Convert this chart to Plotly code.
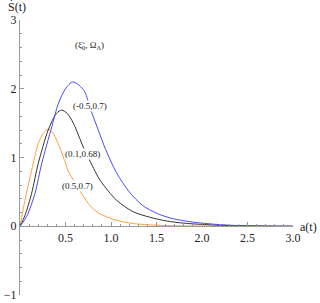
import plotly.graph_objects as go

# Series
a_blue = [0, 0.073, 0.165, 0.238, 0.35, 0.42, 0.50, 0.579, 0.65, 0.714, 0.77, 0.86, 0.94, 1.06, 1.20, 1.35, 1.50, 1.65, 1.80, 2.0, 2.3, 2.6, 3.0]
s_blue = [0, 0.14, 0.48, 0.91, 1.45, 1.78, 2.00, 2.10, 2.05, 1.95, 1.72, 1.40, 1.12, 0.78, 0.50, 0.30, 0.19, 0.12, 0.08, 0.045, 0.015, 0.005, 0]

a_black = [0, 0.055, 0.128, 0.20, 0.31, 0.40, 0.458, 0.52, 0.586, 0.696, 0.75, 0.88, 1.06, 1.245, 1.43, 1.61, 1.80, 2.1, 2.5, 3.0]
s_black = [0, 0.16, 0.48, 0.91, 1.40, 1.64, 1.69, 1.64, 1.50, 1.15, 1.00, 0.67, 0.38, 0.21, 0.13, 0.077, 0.045, 0.02, 0.005, 0]

a_orange = [0, 0.055, 0.128, 0.20, 0.26, 0.31, 0.36, 0.42, 0.50, 0.53, 0.62, 0.714, 0.79, 0.88, 1.06, 1.24, 1.5, 2.0, 3.0]
s_orange = [0, 0.38, 0.815, 1.20, 1.36, 1.41, 1.36, 1.20, 0.92, 0.80, 0.60, 0.40, 0.27, 0.18, 0.087, 0.04, 0.015, 0.003, 0]

x_tickvals = [0.5, 1.0, 1.5, 2.0, 2.5, 3.0]
x_ticktext = ["0.5", "1.0", "1.5", "2.0", "2.5", "3.0"]
y_tickvals = [-1, 0, 1, 2, 3]
y_ticktext = ["\u22121", "0", "1", "2", "3"]

curve_labels = ["(-0.5,0.7)", "(0.1,0.68)", "(0.5,0.7)"]
label_x = [0.77, 0.69, 0.63]
label_y = [1.75, 1.05, 0.58]

FONT = "Liberation Serif, Times New Roman, serif"

fig = go.Figure()
for a, s, c in [(a_orange, s_orange, "#ffa040"),
                (a_black, s_black, "#333333"),
                (a_blue, s_blue, "#4a4aff")]:
    fig.add_trace(go.Scatter(x=a, y=s, mode="lines",
                             line=dict(color=c, width=1, shape="spline", smoothing=0.8),
                             showlegend=False, hoverinfo="skip"))

axis_common = dict(showgrid=False, zeroline=False, showline=True, automargin=False,
                   linecolor="#999999", linewidth=1,
                   ticks="inside", tickcolor="#999999", ticklen=4, tickwidth=1,
                   tickfont=dict(family=FONT, size=12, color="#222222"))

fig.update_layout(
    width=320, height=303,
    font=dict(family=FONT, size=12, color="#222222"),
    margin=dict(l=20, r=27, t=20, b=8, autoexpand=False),
    paper_bgcolor="white", plot_bgcolor="white",
    xaxis=dict(range=[0, 3], anchor="free", position=0.25,
               tickvals=x_tickvals, ticktext=x_ticktext,
               minor=dict(dtick=0.1, tick0=0, ticks="inside", ticklen=2, tickcolor="#999999"),
               **axis_common),
    yaxis=dict(range=[-1, 3], tickvals=y_tickvals, ticktext=y_ticktext,
               minor=dict(dtick=0.2, tick0=0, ticks="inside", ticklen=2, tickcolor="#999999"),
               **axis_common),
)

for t, x, y in zip(curve_labels, label_x, label_y):
    fig.add_annotation(x=x, y=y, text=t, showarrow=False, bgcolor="white", borderpad=0,
                       font=dict(family=FONT, size=9, color="#222222"))

fig.add_annotation(x=0.76, y=2.63, text="(\u03be\u0303<sub>0</sub>, \u03a9<sub>\u039b</sub>)",
                   showarrow=False, font=dict(family=FONT, size=9, color="#222222"))
fig.add_annotation(x=0, y=3, text="\u1e60(t)", showarrow=False, xshift=-3, yshift=13.5,
                   font=dict(family=FONT, size=12, color="#222222"))
fig.add_annotation(x=3, y=0, text="a(t)", showarrow=False, xanchor="left", xshift=5, yshift=-1,
                   font=dict(family=FONT, size=12, color="#222222"))

fig.write_html("out.html", config={"displayModeBar": False},
               post_script="document.body.style.margin='0';")
